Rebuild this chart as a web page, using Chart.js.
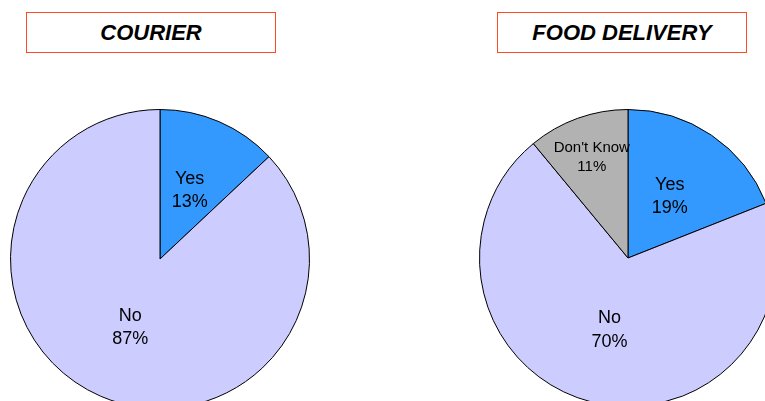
<!DOCTYPE html>
<html>
<head>
<meta charset="utf-8">
<script src="https://cdn.jsdelivr.net/npm/chart.js@4/dist/chart.umd.min.js"></script>
<style>
  html, body { margin: 0; padding: 0; background: #fff; overflow: hidden; }
  #page { position: relative; width: 765px; height: 401px; overflow: hidden; }
  .title {
    position: absolute; top: 12px; height: 39px; width: 248px;
    border: 1px solid #ff4a24; box-sizing: content-box;
    font: italic bold 22px "Liberation Sans", Arial, sans-serif;
    text-align: center; line-height: 40px; color: #000;
  }
  canvas { position: absolute; }
</style>
</head>
<body>
<div id="page">
  <div class="title" style="left:26px">COURIER</div>
  <div class="title" style="left:497px">FOOD DELIVERY</div>
  <canvas id="courierChart" width="300" height="300" style="left:10px;top:109px"></canvas>
  <canvas id="foodChart" width="298" height="298" style="left:479px;top:109px"></canvas>
</div>
<script>
const courierLabels = ['Yes', 'No'];
const courierValues = [13, 87];
const foodLabels = ['Yes', 'No', "Don't Know"];
const foodValues = [19, 70, 11];

const sliceColours = { 'Yes': '#3399ff', 'No': '#ccccff', "Don't Know": '#b2b2b2' };

// draws "label / value%" inside each slice
const sliceLabels = {
  id: 'sliceLabels',
  afterDatasetsDraw(chart, args, opts) {
    const ctx = chart.ctx;
    const ds = chart.data.datasets[0];
    const meta = chart.getDatasetMeta(0);
    meta.data.forEach((arc, i) => {
      const p = arc.getProps(['x', 'y', 'startAngle', 'endAngle', 'outerRadius'], true);
      const mid = (p.startAngle + p.endAngle) / 2;
      const f = (opts.radius && opts.radius[i]) || 0.5;
      const size = (opts.sizes && opts.sizes[i]) || 18;
      const gap = size * 1.3;
      const cx = p.x + Math.cos(mid) * p.outerRadius * f;
      const cy = p.y + Math.sin(mid) * p.outerRadius * f;
      ctx.save();
      ctx.fillStyle = '#000';
      ctx.textAlign = 'center';
      ctx.textBaseline = 'middle';
      ctx.font = size + 'px "Liberation Sans", Arial, sans-serif';
      ctx.fillText(chart.data.labels[i], cx, cy - gap / 2);
      ctx.fillText(ds.data[i] + '%', cx, cy + gap / 2);
      ctx.restore();
    });
  }
};

function makePie(id, labels, values, labelOpts) {
  return new Chart(document.getElementById(id), {
    type: 'pie',
    data: {
      labels: labels,
      datasets: [{
        data: values,
        backgroundColor: labels.map(l => sliceColours[l]),
        borderColor: '#000',
        borderWidth: 1
      }]
    },
    options: {
      responsive: false,
      animation: false,
      layout: { padding: 0 },
      plugins: {
        legend: { display: false },
        tooltip: { enabled: false },
        sliceLabels: labelOpts
      }
    },
    plugins: [sliceLabels]
  });
}

makePie('courierChart', courierLabels, courierValues, { radius: [0.5, 0.5], sizes: [18, 18] });
makePie('foodChart', foodLabels, foodValues, { radius: [0.5, 0.5, 0.72], sizes: [18, 18, 15] });
</script>
</body>
</html>
